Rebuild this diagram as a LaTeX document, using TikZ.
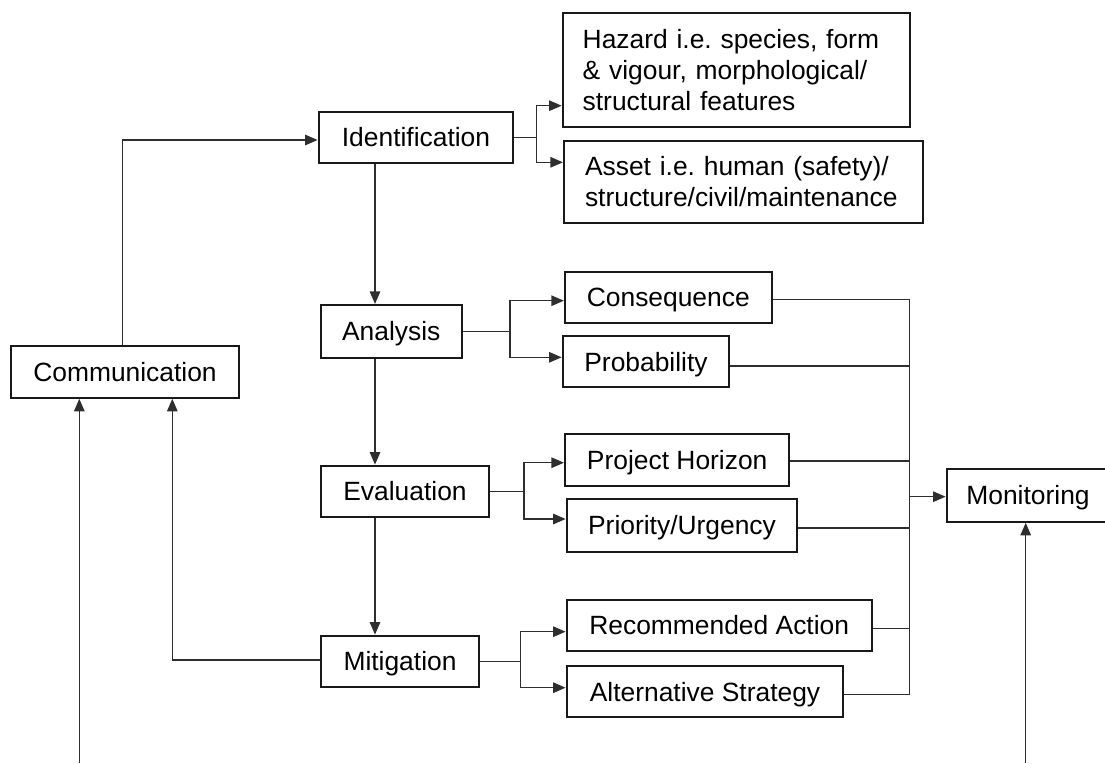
\documentclass[tikz,border=0pt]{standalone}
\usepackage{fontspec}
\setmainfont{Liberation Sans}
\usetikzlibrary{arrows.meta,calc}
\frenchspacing
\begin{document}
\begin{tikzpicture}[x=1pt,y=-1pt,
  box/.style={draw=black!90, line width=2.2pt, inner sep=0pt, text height=18.9pt, text depth=0pt, font=\fontsize{26.4}{31}\selectfont},
  tbox/.style={draw=black!90, line width=2.2pt, inner xsep=20pt, inner ysep=0pt, align=left, font=\fontsize{26.4}{31}\selectfont},
  conn/.style={draw=black!82, line width=1.3pt},
  arr/.style={conn, -{Triangle[length=12.5pt,width=10.5pt]}}]
\path[use as bounding box, clip] (0,0) rectangle (1105,763);

% main column
\node[box, minimum width=228.6pt, minimum height=52pt] (comm) at (125,371.7) {Communication};
\node[box, minimum width=194.6pt, minimum height=51.6pt] (ident) at (416,137.5) {Identification};
\node[box, minimum width=141pt, minimum height=52.7pt] (analysis) at (391.2,331.4) {Analysis};
\node[box, minimum width=168.6pt, minimum height=51.6pt] (eval) at (405,491.5) {Evaluation};
\node[box, minimum width=158.6pt, minimum height=51.6pt] (mit) at (400,661.5) {Mitigation};

% right column
\node[tbox, minimum width=347.3pt, minimum height=113.4pt, text width=307.3pt] (hazard) at (736.35,70) {Hazard i.e. species, form\\\& vigour, morphological/\\structural features};
\node[tbox, minimum width=359.3pt, minimum height=82.6pt, inner xsep=21pt, text width=317.3pt] (asset) at (743.65,182) {Asset i.e. human (safety)/\\structure/civil/maintenance};
\node[box, minimum width=206.7pt, minimum height=50.6pt] (conseq) at (668.3,297.5) {Consequence};
\node[box, minimum width=166.6pt, minimum height=51.3pt] (prob) at (646,361.7) {Probability};
\node[box, minimum width=224.3pt, minimum height=51.7pt] (ph) at (677.2,459.9) {Project Horizon};
\node[box, minimum width=230.6pt, minimum height=52.4pt] (pu) at (682,525.5) {Priority/Urgency};
\node[box, minimum width=305pt, minimum height=51pt] (ra) at (719.2,625.5) {Recommended Action};
\node[box, minimum width=276.6pt, minimum height=51.3pt] (as) at (705,691.7) {Alternative Strategy};
\node[box, minimum width=162.6pt, minimum height=52.4pt] (mon) at (1028,495.5) {Monitoring};

% helper coordinates
\coordinate (vx) at (375,0);
\coordinate (i1) at (536.7,105.7);
\coordinate (i2) at (536.7,162.3);
\coordinate (a1) at (510,300.7);
\coordinate (a2) at (510,357.3);
\coordinate (e1) at (524,462.7);
\coordinate (e2) at (524,519);
\coordinate (m1) at (520.7,631.7);
\coordinate (m2) at (520.7,687.7);
\coordinate (r1) at (909.3,299.3);
\coordinate (r2) at (909.3,366);
\coordinate (r3) at (909.3,461);
\coordinate (r4) at (909.3,528);
\coordinate (r5) at (909.3,628.5);
\coordinate (r6) at (909.3,694.5);
\coordinate (rm) at (909.3,496.7);
\coordinate (cl) at (172.3,660);
\coordinate (cb) at (79.3,763);
\coordinate (mb) at (1025.7,763);
\coordinate (ct) at (122.7,140);

% communication to identification
\draw[arr] (comm.north -| ct) -- (ct) -- (ident.west |- ct);

% vertical flow
\draw[arr] (ident.south -| vx) -- (analysis.north -| vx);
\draw[arr] (analysis.south -| vx) -- (eval.north -| vx);
\draw[arr] (eval.south -| vx) -- (mit.north -| vx);

% branches
\draw[arr] (ident.east) -| (i1) -- (hazard.west |- i1);
\draw[arr] (ident.east) -| (i2) -- (asset.west |- i2);
\draw[arr] (analysis.east) -| (a1) -- (conseq.west |- a1);
\draw[arr] (analysis.east) -| (a2) -- (prob.west |- a2);
\draw[arr] (eval.east) -| (e1) -- (ph.west |- e1);
\draw[arr] (eval.east) -| (e2) -- (pu.west |- e2);
\draw[arr] (mit.east) -| (m1) -- (ra.west |- m1);
\draw[arr] (mit.east) -| (m2) -- (as.west |- m2);

% collector to monitoring
\draw[conn] (conseq.east |- r1) -- (r1) -- (r6);
\draw[conn] (prob.east |- r2) -- (r2);
\draw[conn] (ph.east |- r3) -- (r3);
\draw[conn] (pu.east |- r4) -- (r4);
\draw[conn] (ra.east |- r5) -- (r5);
\draw[conn] (as.east |- r6) -- (r6);
\draw[arr] (rm) -- (mon.west |- rm);

% feedback to communication
\draw[arr] (mit.west |- cl) -- (cl) -- (comm.south -| cl);
\draw[arr] (cb) -- (comm.south -| cb);
\draw[arr] (mb) -- (mon.south -| mb);
\end{tikzpicture}
\end{document}
